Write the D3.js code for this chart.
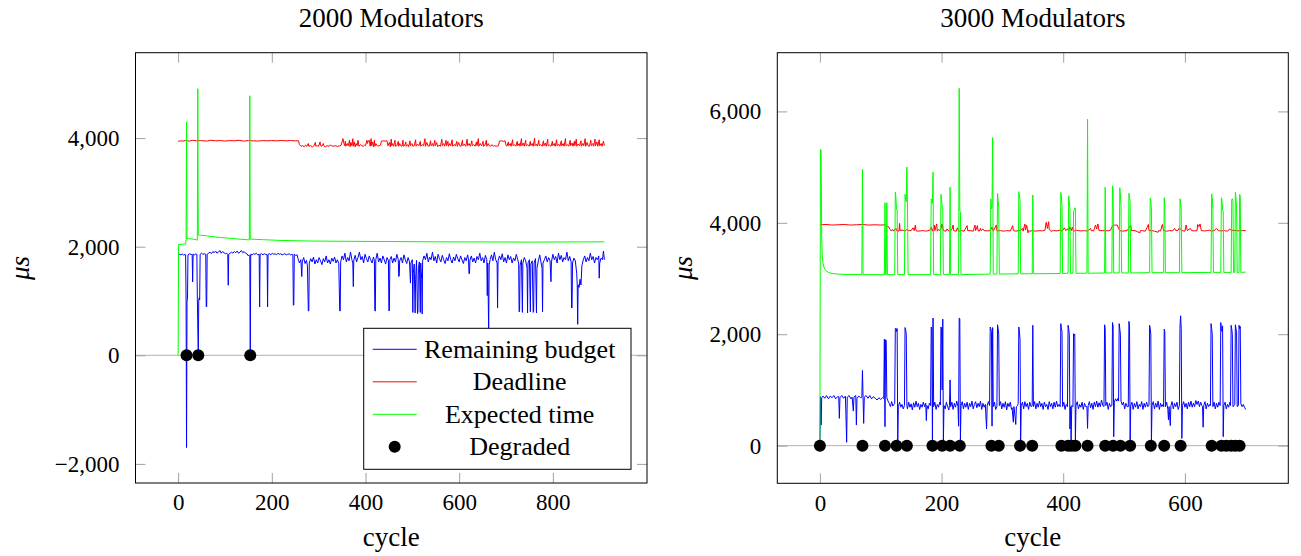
<!DOCTYPE html>
<html><head><meta charset="utf-8">
<script src="https://cdn.jsdelivr.net/npm/d3@7"></script>
<style>
body{margin:0;background:#fff}
svg{display:block}
text{font-family:"Liberation Serif","Times New Roman",serif;fill:#000}
</style>
</head><body>
<svg id="chart" width="1301" height="556"></svg>
<script>
// ---------------- DATA ----------------
const titles = ["2000 Modulators", "3000 Modulators"];
const seriesNames = ["Remaining budget", "Deadline", "Expected time", "Degraded"];
const xTicksLeft = [0, 200, 400, 600, 800];
const yTicksLeft = [-2000, 0, 2000, 4000];
const xTicksRight = [0, 200, 400, 600];
const yTicksRight = [0, 2000, 4000, 6000];

// [cycle, µs]
const budgetLeft = [[0,1840],[3,1860],[6,1850],[9,1865],[12,1845],[15,1860],[16,1850],[17,1020],[18,-1700],[19,1000],[20,1040],[21,1850],[25,1870],[28,1855],[30,1860],[31,1350],[32,1860],[35,1850],[38,1870],[40,1860],[41,1050],[43,0],[44,1000],[45,1060],[46,1020],[47,1860],[50,1880],[53,1860],[56,1870],[59,1860],[60,890],[61,900],[62,1860],[65,1880],[68,1900],[71,1870],[74,1910],[77,1890],[80,1920],[83,1880],[86,1900],[89,1930],[92,1880],[95,1910],[98,1890],[101,1870],[104,1880],[106,1860],[107,1290],[108,1860],[111,1880],[114,1900],[117,1880],[120,1910],[123,1890],[126,1920],[129,1880],[132,1900],[135,1930],[138,1890],[141,1910],[144,1880],[147,1870],[150,1830],[152,1850],[153,1840],[154,0],[155,1860],[158,1850],[161,1870],[164,1860],[167,1880],[170,1850],[173,1860],[174,890],[175,1860],[178,1870],[181,1850],[184,1870],[187,1860],[190,1850],[191,890],[192,1860],[195,1870],[198,1850],[201,1880],[204,1860],[207,1870],[210,1850],[213,1880],[216,1860],[219,1870],[222,1850],[225,1860],[228,1870],[231,1850],[234,1860],[237,1870],[240,1850],[243,1860],[245,1850],[246,920],[247,930],[248,1860],[251,1840],[254,1850],[256,1780],[259,1700],[262,1760],[264,1450],[265,1720],[268,1800],[271,1690],[274,1750],[276,1650],[278,815],[279,820],[280,1700],[283,1780],[286,1720],[289,1810],[292,1680],[295,1760],[298,1700],[301,1800],[304,1740],[307,1670],[310,1780],[313,1720],[316,1830],[319,1700],[322,1760],[325,1680],[328,1790],[331,1730],[334,1810],[337,1700],[340,1760],[343,1690],[345,820],[346,815],[347,1720],[350,1830],[353,1760],[356,1880],[359,1720],[362,1800],[365,1740],[368,1900],[371,1760],[373,1700],[374,1265],[375,1750],[378,1840],[381,1720],[384,1800],[387,1900],[390,1760],[393,1820],[396,1700],[399,1860],[402,1780],[405,1720],[408,1830],[411,1760],[414,1700],[417,1810],[419,1740],[420,820],[421,815],[422,1760],[425,1880],[428,1720],[431,1790],[434,1700],[437,1830],[440,1760],[443,1680],[446,1800],[449,1740],[450,815],[451,830],[452,1760],[455,1820],[458,1700],[461,1790],[464,1720],[467,1860],[470,1760],[471,1450],[472,1460],[473,1740],[476,1800],[479,1700],[482,1850],[485,1760],[488,1690],[491,1800],[494,1720],[496,1330],[497,1700],[500,1760],[501,790],[502,1500],[504,1680],[506,780],[507,1400],[509,1750],[511,770],[512,800],[513,1600],[515,1720],[517,790],[518,1700],[520,1400],[521,760],[522,1740],[525,1830],[528,1760],[531,1880],[534,1720],[537,1810],[540,1760],[543,1900],[546,1740],[549,1820],[552,1700],[555,1860],[558,1780],[561,1720],[564,1840],[567,1760],[570,1690],[573,1800],[576,1740],[579,1870],[582,1760],[585,1700],[588,1810],[591,1740],[594,1860],[597,1780],[600,1720],[603,1830],[606,1760],[609,1690],[612,1800],[615,1740],[618,1850],[620,1760],[621,1500],[622,1510],[623,1750],[626,1830],[629,1720],[632,1790],[635,1700],[638,1820],[641,1760],[644,1880],[647,1740],[650,1800],[653,1700],[656,1840],[659,1760],[660,1100],[661,1700],[663,450],[664,1650],[666,1760],[669,1850],[672,1740],[675,1900],[678,1760],[681,1700],[682,870],[683,1740],[686,1830],[689,1760],[692,1870],[695,1720],[698,1800],[701,1700],[704,1850],[707,1760],[710,1820],[713,1700],[716,1790],[719,1740],[722,1860],[725,1760],[727,1700],[728,800],[729,820],[730,1650],[733,1760],[735,790],[736,1700],[739,1800],[742,1740],[745,1600],[746,780],[747,1700],[750,1760],[752,800],[753,1680],[756,1740],[758,790],[759,810],[760,1700],[763,1780],[765,780],[766,1600],[769,1740],[772,1850],[775,1700],[777,1600],[778,800],[779,1700],[782,1760],[785,1830],[788,1720],[791,1800],[794,1740],[796,1356],[797,1720],[800,1860],[803,1760],[806,1820],[809,1700],[812,1880],[815,1760],[818,1840],[821,1720],[824,1800],[827,1760],[830,1900],[833,1740],[836,1820],[839,1720],[840,870],[841,880],[842,1700],[845,1790],[848,1740],[851,1500],[852,1300],[853,570],[854,1300],[856,1250],[858,1400],[860,1295],[862,1650],[865,1760],[868,1830],[871,1720],[874,1800],[877,1740],[880,1880],[883,1760],[886,1820],[889,1700],[892,1800],[895,1760],[898,1830],[899,1420],[900,1700],[903,1790],[906,1760],[908,1920],[910,1760]];

const deadlineLeft = [[0,3940],[5,3950],[10,3945],[15,3955],[20,3950],[25,3945],[30,3960],[40,3950],[50,3955],[60,3945],[70,3960],[80,3950],[90,3955],[100,3945],[110,3955],[120,3950],[130,3960],[140,3945],[150,3955],[160,3950],[170,3945],[180,3955],[190,3950],[200,3955],[210,3950],[220,3955],[230,3950],[240,3955],[250,3950],[257,3950],[259,3880],[262,3850],[266,3860],[269,3840],[272,3870],[275,3850],[278,3900],[279,3850],[283,3860],[287,3840],[290,3860],[293,3920],[294,3850],[297,3860],[300,3850],[303,3930],[304,3860],[307,3850],[310,3900],[311,3860],[314,3840],[318,3860],[322,3850],[325,3870],[330,3850],[335,3860],[340,3850],[345,3855],[348,3870],[350,3930],[352,3990],[354,3900],[356,3860],[357,3940],[358,3850],[361,3900],[363,3860],[366,3960],[367,3840],[369,3920],[371,3860],[373,3990],[374,3850],[376,3930],[378,3840],[380,3900],[382,3860],[384,3960],[386,3850],[389,3880],[392,3860],[395,3850],[398,3870],[400,3860],[403,3960],[404,3900],[406,3950],[408,3960],[410,3850],[412,3990],[413,3860],[415,3930],[417,3840],[419,3960],[420,3850],[422,3900],[425,3860],[428,3855],[432,3870],[434,3945],[438,3950],[442,3945],[446,3950],[448,3860],[451,3920],[453,3840],[455,3980],[456,3860],[458,3900],[460,3850],[463,3960],[464,3850],[467,3860],[470,3940],[471,3850],[473,3900],[475,3860],[478,3850],[480,3960],[481,3850],[484,3870],[486,3930],[487,3850],[490,3880],[492,3840],[495,3950],[496,3860],[499,3900],[501,3850],[504,3860],[507,3970],[508,3850],[511,3890],[514,3860],[517,3940],[518,3850],[521,3880],[524,3860],[527,3990],[528,3850],[531,3920],[533,3860],[536,3850],[539,3950],[540,3860],[543,3900],[545,3850],[548,3960],[549,3860],[552,3920],[554,3840],[557,3870],[560,3850],[563,3980],[564,3860],[567,3900],[569,3850],[572,3960],[573,3860],[576,3940],[577,3850],[580,3900],[582,3860],[585,3970],[586,3850],[589,3880],[592,3860],[595,3940],[596,3850],[599,3920],[601,3860],[604,3850],[607,3960],[608,3860],[611,3890],[614,3850],[617,3980],[618,3860],[621,3900],[624,3850],[627,3950],[628,3860],[631,3880],[634,3850],[637,3930],[638,3860],[641,3990],[642,3850],[645,3900],[648,3860],[651,3940],[652,3850],[655,3870],[658,3960],[659,3850],[662,3900],[664,3860],[667,3850],[670,3880],[673,3850],[676,3860],[680,3850],[684,3860],[686,3945],[690,3950],[694,3940],[698,3950],[700,3870],[702,3850],[705,3930],[706,3860],[709,3900],[711,3850],[714,3970],[715,3860],[718,3880],[721,3850],[724,3940],[725,3860],[728,3900],[730,3850],[733,3990],[734,3860],[737,3910],[739,3850],[742,3960],[743,3860],[746,3880],[749,3850],[752,3940],[753,3860],[756,3900],[758,3850],[761,4000],[762,3860],[765,3890],[767,3850],[770,3960],[771,3860],[774,3880],[777,3850],[780,3950],[781,3860],[784,3910],[786,3850],[789,3980],[790,3860],[793,3870],[796,3850],[799,3940],[800,3860],[803,3900],[805,3850],[808,3970],[809,3860],[812,3890],[815,3850],[818,3950],[819,3860],[822,3900],[824,3850],[827,3990],[828,3860],[831,3880],[834,3850],[837,3960],[838,3860],[841,3910],[843,3850],[846,3940],[847,3860],[850,3980],[851,3850],[854,3890],[857,3860],[860,3950],[861,3850],[864,3900],[866,3860],[869,3990],[870,3850],[873,3920],[875,3860],[878,3850],[881,3960],[882,3860],[885,3900],[887,3850],[890,3980],[891,3860],[894,3930],[896,3850],[899,3970],[900,3860],[903,3900],[905,3850],[908,3940],[910,3860]];

const expectedLeft = [[0,0],[1,2040],[10,2045],[16,2050],[17,2140],[18,4300],[19,2150],[25,2145],[32,2140],[38,2130],[41,2120],[42,4910],[43,2215],[50,2210],[60,2200],[75,2185],[90,2170],[110,2155],[130,2140],[152,2125],[153,4780],[154,2140],[180,2130],[220,2115],[280,2105],[350,2100],[450,2095],[550,2090],[650,2088],[750,2085],[850,2088],[910,2090]];

const degradedLeft = [18, 43, 154];

const budgetRight = [[0,0],[1,880],[2,370],[3,860],[5,890],[8,850],[11,900],[14,840],[17,890],[20,860],[23,900],[26,840],[29,880],[31,880],[32,490],[33,860],[36,900],[39,850],[42,890],[44,60],[45,870],[48,900],[51,840],[53,870],[55,620],[56,870],[59,900],[60,370],[61,850],[64,890],[67,860],[69,870],[70,1350],[71,860],[72,400],[73,870],[76,900],[79,850],[82,900],[85,840],[88,880],[91,850],[94,820],[97,860],[100,830],[103,860],[105,850],[106,1910],[107,340],[108,1900],[109,1890],[110,860],[112,800],[114,760],[116,700],[118,790],[120,710],[123,760],[124,2100],[125,2110],[126,2050],[127,2100],[128,100],[129,700],[131,780],[133,690],[135,740],[137,660],[139,720],[140,2120],[141,2080],[142,2000],[143,720],[144,660],[146,780],[148,690],[150,750],[152,640],[154,770],[156,690],[158,800],[160,700],[162,760],[164,650],[166,740],[168,690],[170,780],[172,700],[174,760],[175,450],[176,720],[178,660],[180,760],[182,720],[183,2130],[184,2100],[185,60],[186,2290],[187,700],[189,780],[191,650],[193,740],[195,690],[197,780],[198,730],[199,2130],[200,2100],[201,1000],[202,2270],[203,60],[204,720],[206,660],[208,780],[210,700],[212,640],[213,720],[214,1180],[215,700],[217,780],[219,650],[221,760],[223,690],[225,800],[227,700],[228,350],[229,2290],[230,2280],[231,80],[232,720],[234,790],[236,660],[238,760],[240,690],[242,780],[244,650],[246,760],[248,700],[250,800],[252,660],[254,740],[256,790],[258,680],[260,760],[262,700],[264,800],[266,650],[268,760],[270,690],[272,740],[274,300],[275,720],[277,790],[279,720],[280,2130],[281,2100],[282,2050],[283,350],[284,2120],[285,700],[287,780],[289,650],[291,700],[292,2170],[293,2100],[294,2000],[295,720],[297,790],[299,660],[301,760],[303,690],[305,790],[307,640],[309,760],[311,700],[313,780],[315,650],[316,680],[318,420],[319,700],[321,500],[322,380],[323,700],[325,720],[326,760],[327,2130],[328,2050],[329,1900],[330,60],[331,720],[333,780],[335,660],[337,790],[339,700],[341,760],[343,650],[345,780],[347,700],[349,720],[350,2160],[351,700],[353,790],[355,660],[357,760],[359,690],[361,800],[363,700],[365,760],[367,650],[369,780],[371,700],[373,740],[375,650],[377,790],[379,700],[381,760],[383,660],[385,780],[387,690],[389,800],[391,700],[393,740],[395,700],[396,2190],[397,2100],[398,2050],[399,700],[401,780],[403,650],[405,740],[407,700],[408,2160],[409,2100],[410,2000],[411,300],[412,700],[413,60],[414,720],[416,700],[417,2010],[418,1980],[419,2000],[420,60],[421,720],[423,790],[425,660],[427,740],[429,690],[431,780],[433,650],[435,760],[437,700],[439,700],[440,310],[441,720],[443,790],[445,680],[447,760],[449,650],[451,780],[453,700],[455,800],[457,690],[459,770],[461,700],[463,820],[465,720],[467,700],[468,2170],[469,2100],[470,720],[472,780],[474,650],[476,760],[478,700],[480,720],[481,2210],[482,2150],[483,160],[484,780],[486,840],[488,800],[490,850],[491,800],[492,2190],[493,2100],[494,2000],[495,800],[497,730],[499,780],[501,660],[503,760],[505,700],[507,700],[508,2230],[509,2150],[510,60],[511,720],[513,780],[515,650],[517,760],[519,690],[521,790],[523,660],[525,740],[527,700],[529,790],[531,650],[533,760],[535,690],[537,780],[539,700],[541,720],[542,2160],[543,2100],[544,2000],[545,60],[546,720],[548,790],[550,660],[552,760],[554,690],[556,800],[558,650],[560,760],[562,700],[564,740],[565,700],[566,2090],[567,2050],[568,700],[570,780],[572,650],[573,460],[574,700],[576,360],[577,720],[579,790],[581,660],[583,760],[585,700],[587,780],[589,650],[591,720],[592,2170],[593,2330],[594,2100],[595,130],[596,720],[598,790],[600,690],[602,760],[604,660],[606,780],[608,700],[610,800],[612,690],[614,760],[616,700],[618,810],[620,740],[622,800],[624,700],[626,780],[628,720],[629,700],[630,330],[631,720],[633,790],[635,660],[637,760],[639,700],[641,740],[642,720],[643,2190],[644,2100],[645,2000],[646,700],[648,780],[650,660],[652,760],[654,690],[656,780],[658,720],[659,2210],[660,2100],[661,2050],[662,2150],[663,160],[664,720],[666,780],[668,660],[670,740],[672,690],[674,780],[675,720],[676,2160],[677,2100],[678,2000],[679,700],[681,720],[682,740],[683,2170],[684,2100],[685,2050],[686,700],[688,720],[689,2160],[690,2100],[691,2140],[692,750],[694,700],[696,740],[698,690],[700,650]];

const deadlineRight = [[0,3965],[10,3970],[20,3960],[30,3965],[40,3970],[50,3960],[60,3965],[70,3970],[80,3960],[90,3965],[100,3960],[108,3965],[110,3940],[113,3930],[115,3880],[117,3860],[120,3880],[121,3850],[125,3900],[126,3860],[130,3850],[131,3990],[132,3860],[136,3870],[140,3850],[143,3880],[146,3860],[150,3860],[153,3910],[155,3860],[157,3960],[158,3860],[160,3850],[165,3855],[170,3860],[175,3850],[181,3870],[183,3920],[185,3850],[188,3960],[189,3860],[192,3980],[193,3850],[195,3880],[198,3860],[201,3980],[203,3860],[207,3850],[209,3890],[211,3860],[214,3850],[217,3880],[219,3960],[220,3860],[224,3850],[226,3910],[228,3850],[233,3860],[237,3850],[242,3950],[243,3860],[247,3860],[252,3850],[255,3960],[256,3860],[259,3950],[260,3860],[262,3850],[264,3900],[265,3860],[268,3890],[270,3860],[275,3855],[280,3860],[283,3920],[285,3850],[290,3960],[291,3855],[297,3860],[302,3850],[307,3860],[313,3855],[317,3950],[318,3860],[322,3850],[327,3860],[330,3870],[333,3900],[334,3850],[337,3980],[338,3870],[340,3960],[342,3820],[343,3860],[345,3850],[350,3860],[355,3850],[360,3860],[366,3855],[370,3870],[372,4010],[374,3900],[376,4020],[377,3880],[380,3850],[384,3860],[390,3855],[395,3870],[398,3850],[402,3910],[404,3860],[407,3890],[409,3850],[411,3930],[413,3860],[415,3920],[417,3840],[420,3870],[425,3860],[430,3855],[435,3860],[440,3850],[445,3900],[446,3860],[450,3855],[453,3960],[455,3890],[457,3980],[459,3860],[465,3860],[470,3855],[475,3860],[478,3870],[480,3930],[483,3955],[486,3960],[489,3960],[491,3900],[493,3860],[497,3850],[500,3855],[505,3860],[508,3910],[511,3960],[512,3860],[518,3860],[526,3820],[527,3860],[530,3860],[535,3850],[540,3970],[541,3860],[546,3860],[550,3850],[556,3830],[557,3860],[560,3855],[563,3970],[565,3860],[570,3850],[575,3860],[580,3855],[583,3900],[585,3860],[589,3870],[591,3910],[593,3880],[595,3860],[600,3850],[602,3960],[604,3860],[609,3900],[611,3860],[615,3855],[620,3860],[621,3970],[623,3930],[625,3980],[627,3860],[632,3855],[637,3860],[641,3870],[643,3850],[648,3860],[652,3900],[655,3860],[660,3855],[665,3860],[670,3850],[674,3890],[676,3860],[680,3865],[685,3860],[690,3855],[695,3860],[700,3860]];

const expectedRight = [[0,0],[1,5320],[2,5300],[3,3700],[4,3400],[5,3280],[7,3190],[10,3140],[14,3110],[20,3090],[30,3080],[45,3072],[69,3070],[70,4960],[71,3070],[106,3070],[107,4360],[108,3070],[109,3070],[110,4360],[111,3070],[123,3070],[124,4550],[125,4450],[126,4240],[127,4240],[128,3070],[139,3070],[140,4510],[141,4420],[142,4380],[143,5000],[144,4300],[145,3070],[182,3070],[183,4430],[184,4400],[185,4350],[186,4910],[187,3070],[198,3070],[199,4510],[200,4420],[201,4300],[202,4240],[203,3070],[213,3070],[214,4640],[215,3070],[228,3070],[229,6415],[230,4210],[231,4200],[232,3070],[280,3080],[281,4430],[282,4250],[283,4300],[284,5530],[285,3080],[291,3080],[292,4530],[293,4400],[294,4270],[295,3080],[326,3085],[327,4560],[328,4500],[329,4400],[330,3085],[349,3085],[350,4500],[351,3085],[395,3090],[396,4545],[397,4480],[398,4290],[399,3090],[408,3095],[409,4485],[410,4400],[411,4240],[412,3095],[416,3095],[417,4210],[418,4220],[419,4270],[420,4250],[421,3095],[439,3095],[440,5860],[441,3095],[468,3100],[469,4640],[470,3100],[480,3100],[481,4665],[482,4600],[483,3100],[492,3100],[493,4630],[494,4500],[495,4320],[496,3100],[507,3100],[508,4530],[509,4450],[510,4380],[511,3100],[542,3105],[543,4445],[544,4400],[545,4230],[546,3105],[565,3105],[566,4450],[567,4300],[568,3105],[591,3105],[592,4430],[593,4350],[594,4230],[595,3105],[643,3110],[644,4520],[645,4450],[646,4260],[647,3110],[659,3110],[660,4450],[661,4400],[662,4230],[663,4210],[664,3110],[676,3110],[677,4420],[678,4430],[679,4400],[680,3110],[682,3110],[683,4550],[684,4450],[685,4270],[686,3110],[689,3110],[690,4510],[691,4480],[692,3110],[700,3115]];

const degradedRight = [0, 70, 107, 126, 143, 185, 201, 214, 230, 282, 294, 329, 349, 397, 408, 414, 420, 440, 469, 482, 494, 510, 544, 566, 593, 644, 660, 668, 676, 683, 690];

// ---------------- DRAWING ----------------
const svg = d3.select("#chart");
const colors = {budget: "#0000ff", deadline: "#ff0000", expected: "#00ff00", degraded: "#000"};
const fmt = v => d3.format(",")(v).replace("-", "\u2212");
const FONT = '"Liberation Serif", "Times New Roman", serif';

function panel(cfg, idx) {
  const x = d3.scaleLinear().domain(cfg.xDomain).range([cfg.left, cfg.right]);
  const y = d3.scaleLinear().domain(cfg.yDomain).range([cfg.bottom, cfg.top]);
  const g = svg.append("g");
  const clipId = "clip" + idx;
  svg.append("clipPath").attr("id", clipId).append("rect")
    .attr("x", cfg.left).attr("y", cfg.top)
    .attr("width", cfg.right - cfg.left).attr("height", cfg.bottom - cfg.top);

  // zero line
  g.append("line").attr("x1", cfg.left).attr("x2", cfg.right)
    .attr("y1", y(0)).attr("y2", y(0))
    .attr("stroke", "#b3b3b3").attr("stroke-width", 1);

  // ticks (inward, all four sides) via d3 axes
  const tl = 10;
  const axB = d3.axisBottom(x).tickValues(cfg.xTicks).tickSize(-tl).tickFormat(fmt).tickPadding(11);
  const axT = d3.axisTop(x).tickValues(cfg.xTicks).tickSize(-tl).tickFormat("");
  const axL = d3.axisLeft(y).tickValues(cfg.yTicks).tickSize(-tl).tickFormat(fmt).tickPadding(16);
  const axR = d3.axisRight(y).tickValues(cfg.yTicks).tickSize(-tl).tickFormat("");
  [[axB, `translate(0,${cfg.bottom})`], [axT, `translate(0,${cfg.top})`],
   [axL, `translate(${cfg.left},0)`], [axR, `translate(${cfg.right},0)`]].forEach(([ax, tr]) => {
    const a = g.append("g").attr("transform", tr).call(ax);
    a.attr("font-family", FONT);
    a.select(".domain").remove();
    a.selectAll(".tick line").attr("stroke", "#a0a0a0").attr("stroke-width", 1);
    a.selectAll(".tick text").attr("font-size", 23).attr("font-family", FONT).attr("fill", "#000");
  });

  const line = d3.line().x(d => x(d[0])).y(d => y(d[1]));
  const lg = g.append("g").attr("clip-path", `url(#${clipId})`);
  lg.append("path").datum(cfg.budget).attr("d", line).attr("fill", "none")
    .attr("stroke", colors.budget).attr("stroke-width", 1).attr("stroke-linejoin", "round");
  lg.append("path").datum(cfg.deadline).attr("d", line).attr("fill", "none")
    .attr("stroke", colors.deadline).attr("stroke-width", 1).attr("stroke-linejoin", "round");
  lg.append("path").datum(cfg.expected).attr("d", line).attr("fill", "none")
    .attr("stroke", colors.expected).attr("stroke-width", 1).attr("stroke-linejoin", "round");
  lg.selectAll("circle.deg").data(cfg.degraded).enter().append("circle")
    .attr("cx", d => x(d)).attr("cy", y(0)).attr("r", 6).attr("fill", colors.degraded);

  // frame
  g.append("rect").attr("x", cfg.left).attr("y", cfg.top)
    .attr("width", cfg.right - cfg.left).attr("height", cfg.bottom - cfg.top)
    .attr("fill", "none").attr("stroke", "#000").attr("stroke-width", 1);

  const cx = (cfg.left + cfg.right) / 2;
  g.append("text").attr("x", cx).attr("y", 18).attr("text-anchor", "middle")
    .attr("dominant-baseline", "central").attr("font-size", 27).text(cfg.title);
  g.append("text").attr("x", cx).attr("y", 537).attr("text-anchor", "middle")
    .attr("dominant-baseline", "central").attr("font-size", 27).text("cycle");
  g.append("text").attr("transform", `translate(${cfg.ylabelX},268) rotate(-90)`)
    .attr("text-anchor", "middle").attr("dominant-baseline", "central")
    .attr("font-size", 27).attr("font-style", "italic").text("\u03BCs");

  if (cfg.legend) {
    const L = cfg.legend;
    g.append("rect").attr("x", L.x).attr("y", L.y).attr("width", L.w).attr("height", L.h)
      .attr("fill", "#fff").attr("stroke", "#000").attr("stroke-width", 1);
    const keys = ["budget", "deadline", "expected", "degraded"];
    keys.forEach((k, i) => {
      const yy = L.y + 21 + i * 32.5;
      if (k === "degraded") {
        g.append("circle").attr("cx", L.x + 31).attr("cy", yy).attr("r", 6).attr("fill", "#000");
      } else {
        g.append("line").attr("x1", L.x + 9).attr("x2", L.x + 53).attr("y1", yy).attr("y2", yy)
          .attr("stroke", colors[k]).attr("stroke-width", 1);
      }
      g.append("text").attr("x", L.x + 156).attr("y", yy).attr("text-anchor", "middle")
        .attr("dominant-baseline", "central").attr("font-size", 26).text(seriesNames[i]);
    });
  }
}

panel({
  title: titles[0], left: 135.5, right: 647, top: 52.7, bottom: 483,
  xDomain: [-91, 1001], yDomain: [-2352, 5573],
  xTicks: xTicksLeft, yTicks: yTicksLeft,
  budget: budgetLeft, deadline: deadlineLeft, expected: expectedLeft, degraded: degradedLeft,
  ylabelX: 20,
  legend: {x: 363.7, y: 328.3, w: 267.3, h: 141}
}, 0);

panel({
  title: titles[1], left: 777.3, right: 1288.3, top: 52.7, bottom: 483.3,
  xDomain: [-70, 770], yDomain: [-676, 7054],
  xTicks: xTicksRight, yTicks: yTicksRight,
  budget: budgetRight, deadline: deadlineRight, expected: expectedRight, degraded: degradedRight,
  ylabelX: 683,
  legend: null
}, 1);
</script>
</body></html>
